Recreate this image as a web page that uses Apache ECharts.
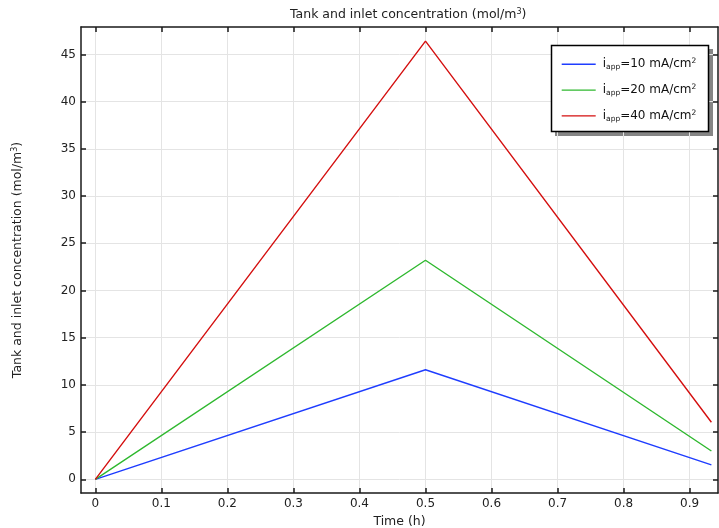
<!DOCTYPE html>
<html>
<head>
<meta charset="utf-8">
<script src="https://cdn.jsdelivr.net/npm/echarts@6/dist/echarts.min.js"></script>
<style>html,body{margin:0;padding:0;background:#fff;}#chart{width:719px;height:528px;}</style>
</head>
<body>
<div id="chart"></div>
<script>
const titleText = 'Tank and inlet concentration (mol/m';
const xAxisName = 'Time (h)';
const yAxisName = 'Tank and inlet concentration (mol/m';
const times = [0, 0.5, 0.933];
const conc10 = [0, 11.6, 1.52];
const conc20 = [0, 23.2, 3.0];
const conc40 = [0, 46.4, 6.04];
const currents = [10, 20, 40];
const seriesColors = ['#1f3dff', '#2fb82f', '#d40f0f'];
const xTicks = [0, 0.1, 0.2, 0.3, 0.4, 0.5, 0.6, 0.7, 0.8, 0.9];
const yTicks = [0, 5, 10, 15, 20, 25, 30, 35, 40, 45];

const FONT = 'DejaVu Sans';
const seriesValues = [conc10, conc20, conc40];
const names = currents.map(c => 'iapp=' + c + ' mA/cm²');

const chart = echarts.init(document.getElementById('chart'), null, {renderer: 'canvas'});
const axisLineStyle = {color: '#1a1a1a', width: 1.5};
const gridStyle = {color: '#e4e4e4', width: 1};
const supRich = (fs) => ({
  t: {fontFamily: FONT, fontSize: fs, color: '#222', lineHeight: 14},
  sup: {fontFamily: FONT, fontSize: 8, color: '#222', verticalAlign: 'top', lineHeight: 7}
});
const option = {
  backgroundColor: '#fff',
  animation: false,
  textStyle: {fontFamily: FONT},
  title: {
    text: '{t|' + titleText + '}{sup|3}{t|)}',
    left: 285,
    top: 3,
    textStyle: {
      fontFamily: FONT, fontSize: 12.5, fontWeight: 'normal', color: '#222',
      rich: supRich(12.5)
    }
  },
  grid: {left: 81, right: 1, top: 27, bottom: 35, outerBoundsMode: 'none', containLabel: false},
  graphic: [
    {type: 'rect', z: 0, shape: {x: 555, y: 49, width: 158, height: 87}, style: {fill: '#858585'}},
    {type: 'rect', z: 1, shape: {x: 551.5, y: 45.5, width: 157, height: 86}, style: {fill: '#fff', stroke: '#000', lineWidth: 1.5}}
  ],
  legend: {
    orient: 'vertical',
    left: 551, top: 45,
    padding: [12.3, 11, 10, 10.7],
    itemGap: 11.8,
    itemWidth: 34, itemHeight: 1.4,
    icon: 'rect',
    backgroundColor: 'transparent',
    borderWidth: 0,
    z: 10,
    data: names,
    formatter: function (name) {
      const i = names.indexOf(name);
      return '{t|i}{sub|app}{t|=' + currents[i] + ' mA/cm}{sup|2}';
    },
    textStyle: {
      fontFamily: FONT, fontSize: 12, color: '#111', padding: [0, 0, 0, 2],
      rich: {
        t: {fontFamily: FONT, fontSize: 12, color: '#111', lineHeight: 14},
        sub: {fontFamily: FONT, fontSize: 7.5, color: '#111', verticalAlign: 'bottom', lineHeight: 2},
        sup: {fontFamily: FONT, fontSize: 7.5, color: '#111', verticalAlign: 'top', lineHeight: 7}
      }
    }
  },
  xAxis: [{
    type: 'value', min: -0.0217, max: 0.943,
    name: xAxisName, nameLocation: 'middle', nameGap: 21,
    nameTextStyle: {fontFamily: FONT, fontSize: 12.5, color: '#222'},
    axisLine: {show: true, onZero: false, lineStyle: axisLineStyle},
    axisTick: {show: true, inside: true, length: 5, lineStyle: axisLineStyle, customValues: xTicks},
    axisLabel: {fontFamily: FONT, fontSize: 12, color: '#222', margin: 5, customValues: xTicks},
    splitLine: {show: true, lineStyle: gridStyle}
  }, {
    type: 'value', position: 'top', min: -0.0217, max: 0.943,
    axisLine: {show: true, onZero: false, lineStyle: axisLineStyle},
    axisTick: {show: true, inside: true, length: 5, lineStyle: axisLineStyle, customValues: xTicks},
    axisLabel: {show: false, customValues: xTicks},
    splitLine: {show: false}
  }],
  yAxis: [{
    type: 'value', min: -1.45, max: 47.9,
    name: '{t|' + yAxisName + '}{sup|3}{t|)}', nameLocation: 'middle', nameGap: 56,
    nameTextStyle: {fontFamily: FONT, fontSize: 12.5, color: '#222', rich: supRich(12.5)},
    axisLine: {show: true, onZero: false, lineStyle: axisLineStyle},
    axisTick: {show: true, inside: true, length: 5, lineStyle: axisLineStyle, customValues: yTicks},
    axisLabel: {fontFamily: FONT, fontSize: 12, color: '#222', margin: 5, customValues: yTicks},
    splitLine: {show: true, lineStyle: gridStyle}
  }, {
    type: 'value', position: 'right', min: -1.45, max: 47.9,
    axisLine: {show: true, onZero: false, lineStyle: axisLineStyle},
    axisTick: {show: true, inside: true, length: 5, lineStyle: axisLineStyle, customValues: yTicks},
    axisLabel: {show: false, customValues: yTicks},
    splitLine: {show: false}
  }],
  series: seriesValues.map((vals, k) => ({
    name: names[k],
    type: 'line',
    xAxisIndex: 0, yAxisIndex: 0,
    data: times.map((t, i) => [t, vals[i]]),
    symbol: 'none',
    lineStyle: {color: seriesColors[k], width: 1.4},
    itemStyle: {color: seriesColors[k]},
    z: 3 + k
  }))
};
chart.setOption(option);
</script>
</body>
</html>
